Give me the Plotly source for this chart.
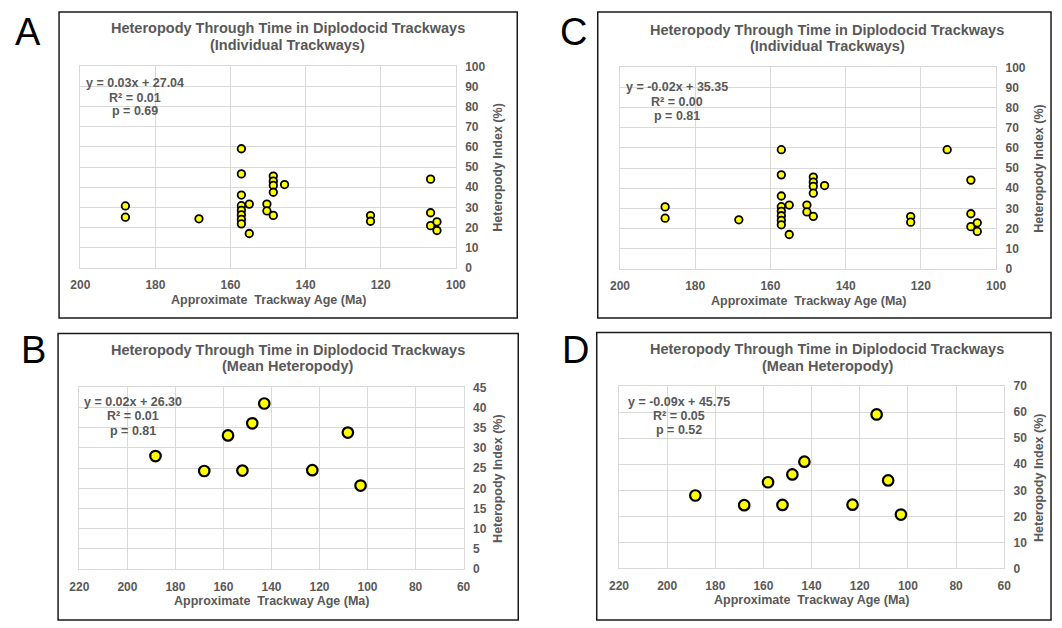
import plotly.graph_objects as go

W, H = 1062, 628

# ---------------- data ----------------
ind_age = [188.0, 188.0, 168.4,
           157.1, 157.1, 157.1, 157.1, 157.1, 157.1, 157.1, 157.1,
           155.0, 155.0, 150.3, 150.3,
           148.6, 148.6, 148.6, 148.6, 148.6, 145.6,
           122.7, 122.7, 106.7, 106.7, 106.7, 105.0, 105.0]
ind_het = [30.7, 25.1, 24.3,
           59.1, 46.6, 36.1, 30.8, 28.5, 26.3, 24.0, 21.8,
           31.6, 17.0, 31.6, 28.2,
           45.5, 43.0, 40.9, 37.5, 26.0, 41.3,
           25.9, 23.1, 44.0, 27.3, 20.9, 22.8, 18.5]
extra_age = [113.0]
extra_het = [59.1]

mean_age = [188.3, 168.0, 158.1, 152.1, 148.0, 143.0, 123.0, 108.2, 102.9]
mean_het = [28.0, 24.3, 33.1, 24.4, 36.1, 41.0, 24.5, 33.8, 20.7]

titles = ["Heteropody Through Time in Diplodocid Trackways",
          "(Individual Trackways)", "(Mean Heteropody)"]
eq_A = ["y = 0.03x + 27.04", "R² = 0.01", "p = 0.69"]
eq_C = ["y = -0.02x + 35.35", "R² = 0.00", "p = 0.81"]
eq_B = ["y = 0.02x + 26.30", "R² = 0.01", "p = 0.81"]
eq_D = ["y = -0.09x + 45.75", "R² = 0.05", "p = 0.52"]
x_title = "Approximate  Trackway Age (Ma)"
y_title = "Heteropody Index (%)"

# ---------------- helpers ----------------
def px(x):
    return x / W

def py(y):
    return 1 - y / H

GRAY = "#595959"
GRID = "#d9d9d9"
FONT = "Liberation Sans"

fig = go.Figure()

panels = [
    dict(k="", xd=(71.7, 454.3), yd=(60.7, 266.7), xr=(200, 100), yr=(0, 100), ydt=10,
         xs=[ind_age], ys=[ind_het], ms=7.5, eq=eq_A, eqx=127, eqy=(78, 92.7, 106.7),
         sub=titles[1], tx=283, ty=(21.7, 39), frame=(50, 5, 517, 318), letter="A", lx=3, ly=26,
         xtl=299.5, ytx=497),
    dict(k="2", xd=(621.7, 1005), yd=(61.7, 267.7), xr=(200, 100), yr=(0, 100), ydt=10,
         xs=[ind_age + extra_age], ys=[ind_het + extra_het], ms=7.5, eq=eq_C, eqx=680, eqy=(81.7, 96.7, 111),
         sub=titles[1], tx=833, ty=(23.3, 40), frame=(599, 5, 1061, 318), letter="C", lx=559, ly=26,
         xtl=300.7, ytx=1048.5),
    dict(k="3", xd=(70.7, 462.3), yd=(389, 575), xr=(220, 60), yr=(0, 45), ydt=5,
         xs=[mean_age], ys=[mean_het], ms=10.5, eq=eq_B, eqx=125, eqy=(404.3, 418.7, 433.3),
         sub=titles[2], tx=283, ty=(350.7, 367), frame=(49, 334, 518, 627), letter="B", lx=9, ly=351,
         xtl=607.7, ytx=498),
    dict(k="4", xd=(620.7, 1013.3), yd=(387.7, 574.3), xr=(220, 60), yr=(0, 70), ydt=10,
         xs=[mean_age + extra_age], ys=[mean_het + extra_het], ms=10.5, eq=eq_D, eqx=682, eqy=(404.3, 418.7, 433),
         sub=titles[2], tx=833, ty=(350, 367), frame=(598, 333, 1061, 627), letter="D", lx=561, ly=351,
         xtl=606.7, ytx=1049.5),
]

annotations = []
shapes = []
layout_axes = {}

for p in panels:
    k = p["k"]
    xa = "x" + k
    ya = "y" + k
    for xs, ys in zip(p["xs"], p["ys"]):
        fig.add_trace(go.Scatter(
            x=xs, y=ys, mode="markers", xaxis=xa, yaxis=ya, showlegend=False,
            marker=dict(size=p["ms"], color="#ffff00",
                        line=dict(color="#000000", width=1.8 if p["ms"] < 9 else 2.2)),
            cliponaxis=False,
        ))
    layout_axes["xaxis" + k] = dict(
        domain=[px(p["xd"][0]), px(p["xd"][1])], anchor=ya,
        range=list(p["xr"]), dtick=20, tick0=0,
        showgrid=True, gridcolor=GRID, gridwidth=1, zeroline=False,
        showline=True, linecolor=GRID, linewidth=1, mirror=True,
        ticks="", ticklabelstandoff=6,
        tickfont=dict(family=FONT, size=12, color=GRAY, weight="bold"),
        fixedrange=True,
    )
    layout_axes["yaxis" + k] = dict(
        domain=[py(p["yd"][1]), py(p["yd"][0])], anchor=xa, side="right",
        range=list(p["yr"]), dtick=p["ydt"], tick0=0,
        showgrid=True, gridcolor=GRID, gridwidth=1, zeroline=False,
        showline=True, linecolor=GRID, linewidth=1, mirror=True,
        ticks="", ticklabelstandoff=6,
        tickfont=dict(family=FONT, size=12, color=GRAY, weight="bold"),
        fixedrange=True,
    )
    for txt, yy in zip([titles[0], p["sub"]], p["ty"]):
        annotations.append(dict(
            text=txt, x=px(p["tx"]), y=py(yy), xref="paper", yref="paper",
            xanchor="center", yanchor="middle", showarrow=False,
            font=dict(family=FONT, size=14.5, color=GRAY, weight="bold")))
    for txt, yy in zip(p["eq"], p["eqy"]):
        annotations.append(dict(
            text=txt, x=px(p["eqx"]), y=py(yy), xref="paper", yref="paper",
            xanchor="center", yanchor="middle", showarrow=False,
            font=dict(family=FONT, size=12.5, color=GRAY, weight="bold")))
    annotations.append(dict(
        text=x_title, x=px((p["xd"][0] + p["xd"][1]) / 2), y=py(p["xtl"]),
        xref="paper", yref="paper", xanchor="center", yanchor="middle", showarrow=False,
        font=dict(family=FONT, size=12.5, color=GRAY, weight="bold")))
    annotations.append(dict(
        text=y_title, x=px(p["ytx"]), y=py((p["yd"][0] + p["yd"][1]) / 2),
        xref="paper", yref="paper", xanchor="center", yanchor="middle", showarrow=False,
        textangle=-90,
        font=dict(family=FONT, size=12.5, color=GRAY, weight="bold")))
    annotations.append(dict(
        text=p["letter"], x=px(p["lx"]), y=py(p["ly"]), xref="paper", yref="paper",
        xanchor="left", yanchor="middle", showarrow=False,
        font=dict(family=FONT, size=38, color="#000000")))
    fx0, fy0, fx1, fy1 = p["frame"]
    shapes.append(dict(type="rect", xref="paper", yref="paper",
                       x0=px(fx0), x1=px(fx1), y0=py(fy1), y1=py(fy0),
                       line=dict(color="#1a1a1a", width=1.5), fillcolor="rgba(0,0,0,0)"))

fig.update_layout(
    width=W, height=H,
    margin=dict(l=0, r=0, t=0, b=0),
    paper_bgcolor="white", plot_bgcolor="white",
    annotations=annotations, shapes=shapes,
    **layout_axes,
)

fig.write_html("out.html", config={"displayModeBar": False})
